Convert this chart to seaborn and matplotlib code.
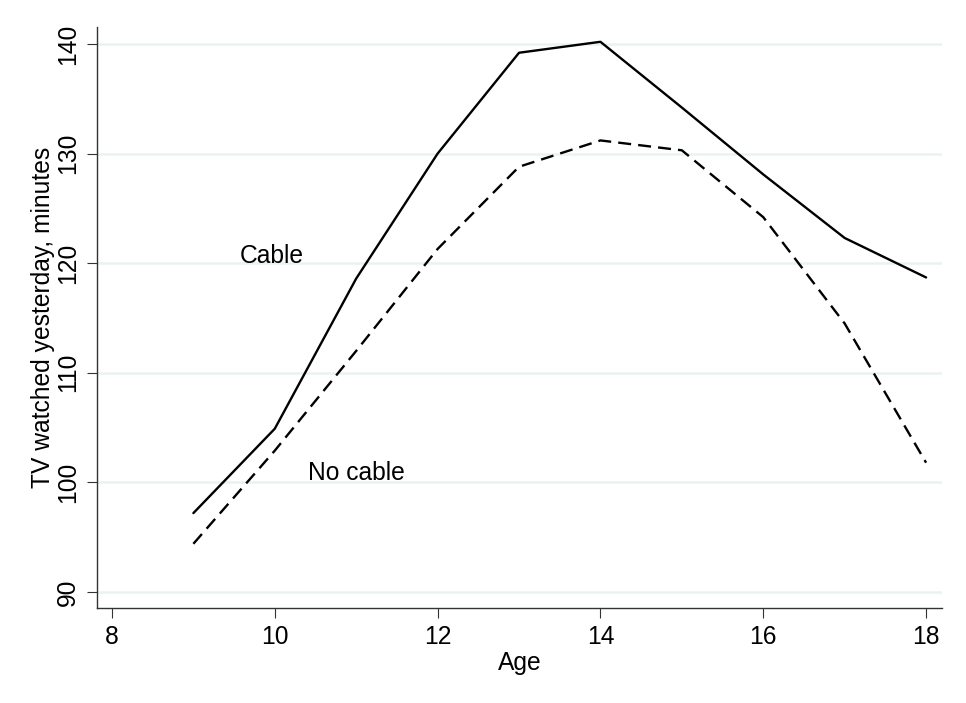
import pandas as pd
import seaborn as sns
import matplotlib.pyplot as plt

plt.switch_backend('Agg')

AGE = [9, 10, 11, 12, 13, 14, 15, 16, 17, 18]
CABLE = [97.2, 104.9, 118.6, 130.0, 139.2, 140.2, 134.2, 128.1, 122.3, 118.7]
NO_CABLE = [94.4, 102.9, 112.0, 121.3, 128.8, 131.2, 130.3, 124.2, 114.5, 101.8]
Y_TICKS = [90, 100, 110, 120, 130, 140]
X_TICKS = [8, 10, 12, 14, 16, 18]

sns.set_style("white")
plt.rcParams['font.family'] = ['Liberation Sans', 'DejaVu Sans']
plt.rcParams['text.color'] = 'black'
plt.rcParams['axes.labelcolor'] = 'black'
plt.rcParams['xtick.color'] = 'black'
plt.rcParams['ytick.color'] = 'black'

df = pd.DataFrame({"age": AGE * 2,
                   "tv": CABLE + NO_CABLE,
                   "group": ["Cable"] * len(AGE) + ["No cable"] * len(AGE)})

fig = plt.figure(figsize=(9.66, 7.03), dpi=100)
ax = fig.add_axes([0.1004, 0.1351, 0.8748, 0.8265])

sns.lineplot(data=df, x="age", y="tv", style="group",
             dashes={"Cable": "", "No cable": (5.5, 3.0)},
             color="black", linewidth=1.7, legend=False, ax=ax)

ax.set_xlim(7.816, 18.196)
ax.set_ylim(88.54, 141.55)
ax.set_xticks(X_TICKS)
ax.set_yticks(Y_TICKS)
ax.set_yticklabels([str(v) for v in Y_TICKS], rotation=90, va="center")
ax.tick_params(axis="both", direction="out", length=7, width=0.8,
               color="#333333", labelsize=17.7, pad=5, left=True, bottom=True)

for y in Y_TICKS:
    ax.axhline(y, color="#eaf2f3", linewidth=1.8, zorder=0)

sns.despine(ax=ax, top=True, right=True)
for s in ["left", "bottom"]:
    ax.spines[s].set_color("#333333")
    ax.spines[s].set_linewidth(1.0)

ax.set_xlabel("Age", fontsize=17.7, labelpad=2)
ax.set_ylabel("TV watched yesterday, minutes", fontsize=17.7, labelpad=1)

ax.text(9.57, 120.7, "Cable", fontsize=17.7, ha="left", va="center")
ax.text(10.41, 100.9, "No cable", fontsize=17.7, ha="left", va="center")

fig.savefig("out.png", dpi=100)
plt.close(fig)
